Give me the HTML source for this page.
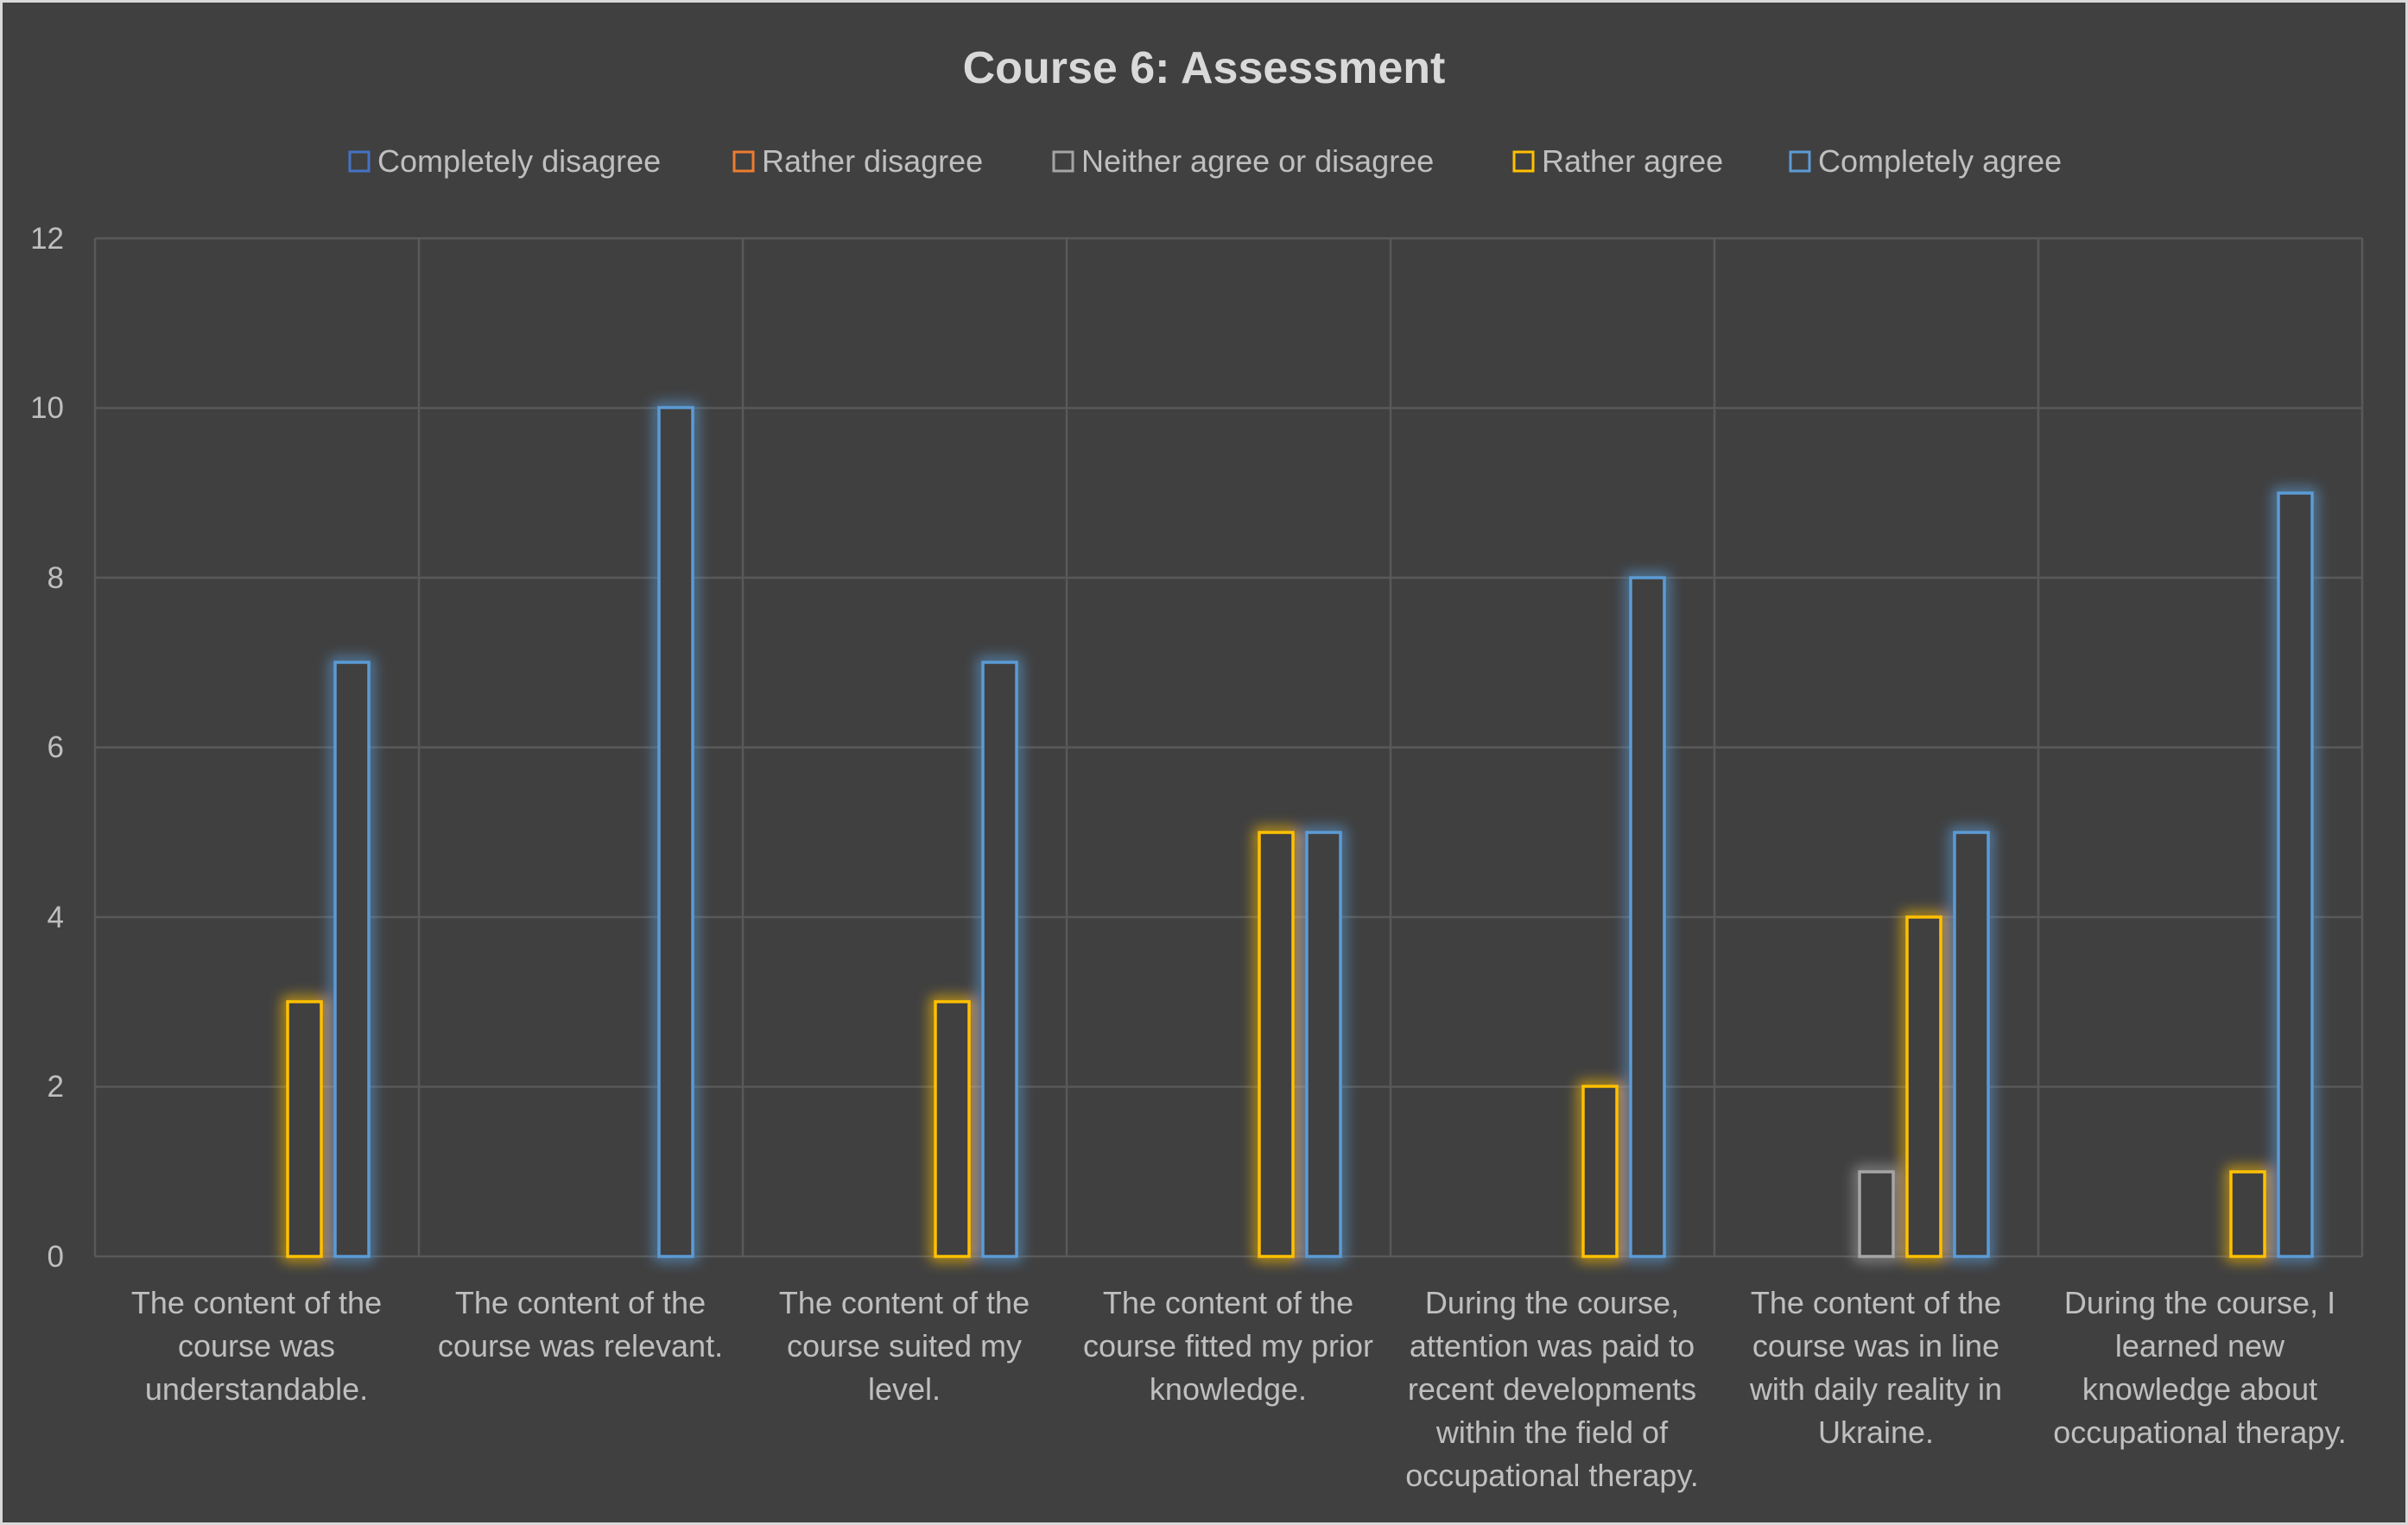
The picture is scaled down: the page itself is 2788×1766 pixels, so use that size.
<!DOCTYPE html>
<html><head><meta charset="utf-8"><style>
html,body{margin:0;padding:0;background:#404040;}
svg{display:block;}
text{font-family:"Liberation Sans",sans-serif;fill:#bfbfbf;}
</style></head><body>
<svg width="2788" height="1766" viewBox="0 0 2788 1766" xmlns="http://www.w3.org/2000/svg">
<defs>
<filter id="gl" x="-100%" y="-20%" width="300%" height="140%"><feGaussianBlur stdDeviation="8"/></filter>
</defs>
<rect x="0" y="0" width="2788" height="1766" fill="#404040" stroke="#d9d9d9" stroke-width="6"/>
<text x="1394" y="96" font-size="52" font-weight="bold" text-anchor="middle" style="fill:#d9d9d9">Course 6: Assessment</text>
<g font-size="36">
<rect x="405" y="176" width="22" height="22" fill="none" stroke="#4472C4" stroke-width="3"/><text x="437" y="199">Completely disagree</text>
<rect x="850" y="176" width="22" height="22" fill="none" stroke="#ED7D31" stroke-width="3"/><text x="882" y="199">Rather disagree</text>
<rect x="1220" y="176" width="22" height="22" fill="none" stroke="#A5A5A5" stroke-width="3"/><text x="1252" y="199">Neither agree or disagree</text>
<rect x="1753" y="176" width="22" height="22" fill="none" stroke="#FFC000" stroke-width="3"/><text x="1785" y="199">Rather agree</text>
<rect x="2073" y="176" width="22" height="22" fill="none" stroke="#5B9BD5" stroke-width="3"/><text x="2105" y="199">Completely agree</text>
</g>
<g stroke="#595959" stroke-width="2.5" fill="none">
<line x1="110" y1="276" x2="2735" y2="276"/><line x1="110" y1="472.5" x2="2735" y2="472.5"/>
<line x1="110" y1="669" x2="2735" y2="669"/><line x1="110" y1="865.5" x2="2735" y2="865.5"/>
<line x1="110" y1="1062" x2="2735" y2="1062"/><line x1="110" y1="1258.5" x2="2735" y2="1258.5"/>
<line x1="110" y1="1455" x2="2735" y2="1455"/>
<line x1="110" y1="276" x2="110" y2="1455"/><line x1="485" y1="276" x2="485" y2="1455"/>
<line x1="860" y1="276" x2="860" y2="1455"/><line x1="1235" y1="276" x2="1235" y2="1455"/>
<line x1="1610" y1="276" x2="1610" y2="1455"/><line x1="1985" y1="276" x2="1985" y2="1455"/>
<line x1="2360" y1="276" x2="2360" y2="1455"/><line x1="2735" y1="276" x2="2735" y2="1455"/>
</g>
<g font-size="35" text-anchor="end">
<text x="74" y="288">12</text><text x="74" y="484">10</text><text x="74" y="681">8</text>
<text x="74" y="877">6</text><text x="74" y="1074">4</text><text x="74" y="1270">2</text><text x="74" y="1467">0</text>
</g>
<g filter="url(#gl)" stroke-width="10" fill="none" opacity="0.85">
<rect x="333" y="1160" width="39" height="295" stroke="#FFC000"/>
<rect x="388" y="767" width="39" height="688" stroke="#5B9BD5"/>
<rect x="763" y="472" width="39" height="983" stroke="#5B9BD5"/>
<rect x="1083" y="1160" width="39" height="295" stroke="#FFC000"/>
<rect x="1138" y="767" width="39" height="688" stroke="#5B9BD5"/>
<rect x="1458" y="964" width="39" height="491" stroke="#FFC000"/>
<rect x="1513" y="964" width="39" height="491" stroke="#5B9BD5"/>
<rect x="1833" y="1258" width="39" height="197" stroke="#FFC000"/>
<rect x="1888" y="669" width="39" height="786" stroke="#5B9BD5"/>
<rect x="2153" y="1357" width="39" height="98" stroke="#A5A5A5"/>
<rect x="2208" y="1062" width="39" height="393" stroke="#FFC000"/>
<rect x="2263" y="964" width="39" height="491" stroke="#5B9BD5"/>
<rect x="2583" y="1357" width="39" height="98" stroke="#FFC000"/>
<rect x="2638" y="571" width="39" height="884" stroke="#5B9BD5"/>
</g>
<g stroke-width="3.5" fill="#404040">
<rect x="333" y="1160" width="39" height="295" stroke="#FFC000"/>
<rect x="388" y="767" width="39" height="688" stroke="#5B9BD5"/>
<rect x="763" y="472" width="39" height="983" stroke="#5B9BD5"/>
<rect x="1083" y="1160" width="39" height="295" stroke="#FFC000"/>
<rect x="1138" y="767" width="39" height="688" stroke="#5B9BD5"/>
<rect x="1458" y="964" width="39" height="491" stroke="#FFC000"/>
<rect x="1513" y="964" width="39" height="491" stroke="#5B9BD5"/>
<rect x="1833" y="1258" width="39" height="197" stroke="#FFC000"/>
<rect x="1888" y="669" width="39" height="786" stroke="#5B9BD5"/>
<rect x="2153" y="1357" width="39" height="98" stroke="#A5A5A5"/>
<rect x="2208" y="1062" width="39" height="393" stroke="#FFC000"/>
<rect x="2263" y="964" width="39" height="491" stroke="#5B9BD5"/>
<rect x="2583" y="1357" width="39" height="98" stroke="#FFC000"/>
<rect x="2638" y="571" width="39" height="884" stroke="#5B9BD5"/>
</g>
<g font-size="36" text-anchor="middle">
<text x="297" y="1521">The content of the</text><text x="297" y="1571">course was</text><text x="297" y="1621">understandable.</text>
<text x="672" y="1521">The content of the</text><text x="672" y="1571">course was relevant.</text>
<text x="1047" y="1521">The content of the</text><text x="1047" y="1571">course suited my</text><text x="1047" y="1621">level.</text>
<text x="1422" y="1521">The content of the</text><text x="1422" y="1571">course fitted my prior</text><text x="1422" y="1621">knowledge.</text>
<text x="1797" y="1521">During the course,</text><text x="1797" y="1571">attention was paid to</text><text x="1797" y="1621">recent developments</text><text x="1797" y="1671">within the field of</text><text x="1797" y="1721">occupational therapy.</text>
<text x="2172" y="1521">The content of the</text><text x="2172" y="1571">course was in line</text><text x="2172" y="1621">with daily reality in</text><text x="2172" y="1671">Ukraine.</text>
<text x="2547" y="1521">During the course, I</text><text x="2547" y="1571">learned new</text><text x="2547" y="1621">knowledge about</text><text x="2547" y="1671">occupational therapy.</text>
</g>
</svg>
</body></html>
